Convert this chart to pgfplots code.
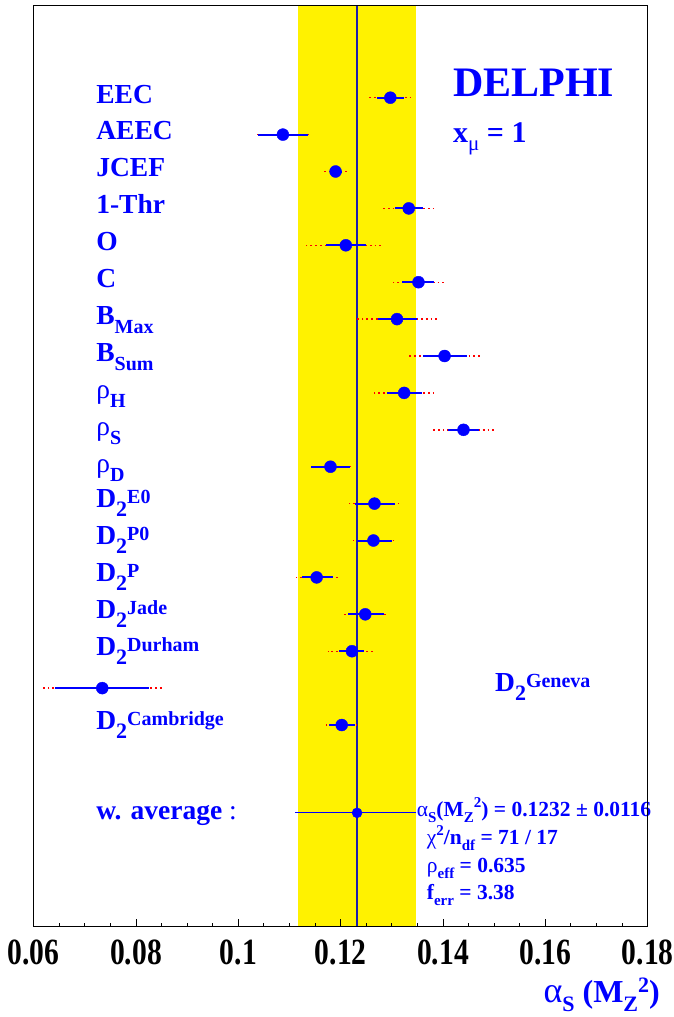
\documentclass[border=0pt]{standalone}
\usepackage{pgfplots}
\pgfplotsset{compat=1.18}
\usepackage{pgfplotstable}
\usepackage{graphicx}
\usepackage{fontspec}
\setmainfont{Liberation Serif}
\definecolor{lblue}{RGB}{0,0,255}
\definecolor{vline}{RGB}{30,30,170}
\newcommand{\fs}[1]{\fontsize{#1}{#1}\selectfont}
\newcommand{\dn}[3]{\raisebox{-#1pt}{\fs{#2}#3}}
\newcommand{\up}[3]{\raisebox{#1pt}{\fs{#2}#3}}
\newcommand{\lab}{\fs{27.5}\bfseries}
\newcommand{\Dlab}[1]{D\dn{9}{22}{2}\up{4}{20}{#1}}
\newcommand{\tl}[1]{\scalebox{0.8}[1]{#1}}

\pgfplotstableread{
y x iem iep oem oep
1 0.1297 0.0026 0.0026 0.0042 0.0042
2 0.1087 0.0049 0.0049 0.0051 0.0051
3 0.1190 0.0010 0.0013 0.0023 0.0025
4 0.1333 0.0027 0.0028 0.0050 0.0049
5 0.1210 0.0039 0.0040 0.0077 0.0075
6 0.1352 0.0033 0.0031 0.0053 0.0053
7 0.1310 0.0038 0.0039 0.0082 0.0083
8 0.1403 0.0043 0.0044 0.0072 0.0070
9 0.1324 0.0034 0.0034 0.0058 0.0058
10 0.1440 0.0030 0.0030 0.0062 0.0061
11 0.1180 0.0038 0.0039 0.0039 0.0040
12 0.1266 0.0039 0.0041 0.0052 0.0048
13 0.1264 0.0032 0.0037 0.0040 0.0040
14 0.1153 0.0029 0.0031 0.0045 0.0046
15 0.1248 0.0034 0.0036 0.0042 0.0042
16 0.1222 0.0025 0.0023 0.0047 0.0046
17 0.0734 0.0093 0.0091 0.0117 0.0118
18 0.1202 0.0025 0.0026 0.0033 0.0029
}\meas

\begin{document}
\begin{tikzpicture}
\useasboundingbox (-33.7pt,-90.3pt) rectangle (640.3pt,926.7pt);
\begin{axis}[
  scale only axis, width=614pt, height=921.4pt,
  xmin=0.06, xmax=0.18, ymin=-1.504, ymax=23.466, y dir=reverse,
  clip=false, axis on top,
  axis line style={black, line width=1.3pt},
  ytick=\empty,
  xtick={0.06,0.08,0.1,0.12,0.14,0.16,0.18},
  xticklabels={\tl{0.06},\tl{0.08},\tl{0.1},\tl{0.12},\tl{0.14},\tl{0.16},\tl{0.18}},
  minor x tick num=3,
  xtick pos=bottom, tick align=inside,
  major tick length=8pt, minor tick length=4pt,
  tick style={black, line width=1pt},
  xticklabel style={font=\fs{37}\bfseries, inner sep=0pt, yshift=-12.6pt},
]
% yellow band
\addplot[fill=yellow, draw=none] coordinates {(0.1116,-1.504) (0.1348,-1.504) (0.1348,23.466) (0.1116,23.466)} -- cycle;
% average line
\addplot[vline, line width=1.5pt] coordinates {(0.1232,-1.504) (0.1232,23.466)};
% outer (dotted red) errors
\addplot[only marks, mark=none, error bars/.cd, x dir=both, x explicit, error mark=none,
  error bar style={red, line width=1.4pt, dash pattern=on 1.8pt off 3pt}]
  table[x=x, y=y, x error plus=oep, x error minus=oem]{\meas};
% inner (solid blue) errors + points
\addplot[only marks, mark=*, mark size=6pt, lblue, error bars/.cd, x dir=both, x explicit, error mark=none,
  error bar style={lblue, line width=2pt}]
  table[x=x, y=y, x error plus=iep, x error minus=iem]{\meas};
% weighted average
\addplot[only marks, mark=*, mark size=5pt, lblue, error bars/.cd, x dir=both, x explicit, error mark=none,
  error bar style={lblue, line width=1.3pt}]
  coordinates {(0.1232,20.38) -= (0.0122,0) += (0.0116,0)};

% labels
\begin{scope}[every node/.style={anchor=base west, text=lblue, font=\lab, inner sep=0pt}]
\node at (axis cs:0.0722,1.144) {EEC};
\node at (axis cs:0.0722,2.144) {AEEC};
\node at (axis cs:0.0722,3.144) {JCEF};
\node at (axis cs:0.0722,4.144) {1-Thr};
\node at (axis cs:0.0722,5.144) {O};
\node at (axis cs:0.0722,6.144) {C};
\node at (axis cs:0.0722,7.144) {B\dn{9}{20}{Max}};
\node at (axis cs:0.0722,8.144) {B\dn{9}{20}{Sum}};
\node at (axis cs:0.0722,9.144) {{\mdseries ρ}\dn{9}{20}{H}};
\node at (axis cs:0.0722,10.144) {{\mdseries ρ}\dn{9}{20}{S}};
\node at (axis cs:0.0722,11.144) {{\mdseries ρ}\dn{9}{20}{D}};
\node at (axis cs:0.0722,12.11) {\Dlab{E0}};
\node at (axis cs:0.0722,13.11) {\Dlab{P0}};
\node at (axis cs:0.0722,14.11) {\Dlab{P}};
\node at (axis cs:0.0722,15.11) {\Dlab{Jade}};
\node at (axis cs:0.0722,16.11) {\Dlab{Durham}};
\node at (axis cs:0.15015,17.10) {\Dlab{Geneva}};
\node at (axis cs:0.0722,18.11) {\Dlab{Cambridge}};
\node at (axis cs:0.0722,20.55) {w. average {\mdseries :}};
\node[font=\fs{42}\bfseries] at (axis cs:0.14195,0.973) {DELPHI};
\node[font=\fs{30}\bfseries] at (axis cs:0.14195,2.22) {x\dn{8}{21}{\mdseries μ} = 1};
\node[font=\fs{21.5}\bfseries] at (axis cs:0.13485,20.49) {{\mdseries α}\dn{6}{15}{S}(M\dn{6}{15}{Z}\up{9}{15}{2}) = 0.1232 ± 0.0116};
\node[font=\fs{21.5}\bfseries] at (axis cs:0.13681,21.25) {{\mdseries χ}\up{9}{15}{2}/n\dn{6}{15}{df} = 71 / 17};
\node[font=\fs{21.5}\bfseries] at (axis cs:0.13681,22.00) {{\mdseries ρ}\dn{6}{15}{eff} = 0.635};
\node[font=\fs{21.5}\bfseries] at (axis cs:0.13681,22.74) {f\dn{6}{15}{err} = 3.38};
\node[anchor=base east, font=\fs{32}\bfseries] at (rel axis cs:1,0) [xshift=12.3pt, yshift=-76pt]
  {{\mdseries\fs{36}α}\dn{9}{22}{S} (M\dn{9}{22}{Z}\up{10}{22}{2})};
\end{scope}
\end{axis}
\end{tikzpicture}
\end{document}
